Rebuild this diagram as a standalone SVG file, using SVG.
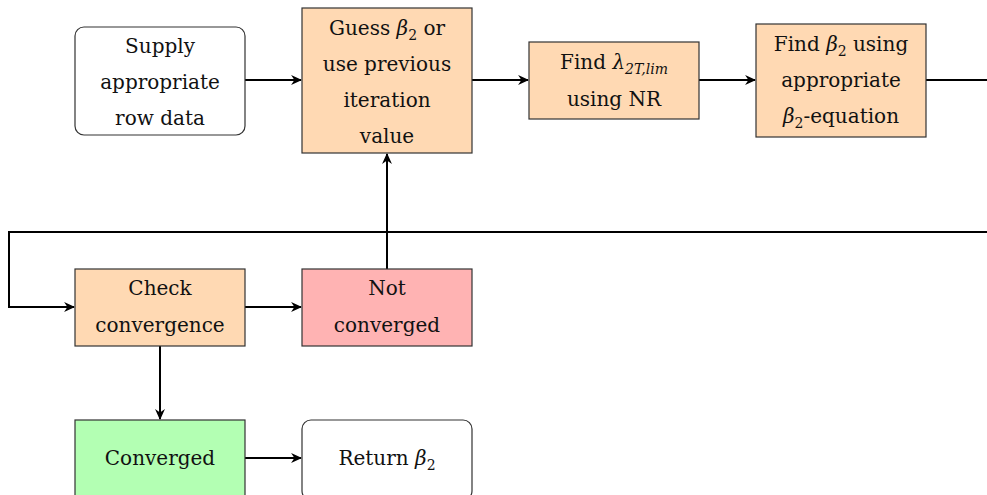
<svg xmlns="http://www.w3.org/2000/svg" width="987" height="495" viewBox="0 0 987 495">
<style>
.box{stroke:#333;stroke-width:1.2}
.w{fill:#fff}
.o{fill:#FFD9B3}
.r{fill:#FFB3B3}
.g{fill:#B3FFB3}
text{font-family:"DejaVu Serif","Liberation Serif",serif;font-size:20px;fill:#111;text-anchor:middle}
.m{font-style:italic}
.c{fill:none;stroke:#000;stroke-width:2}
</style>
<defs>
<marker id="a" viewBox="0 0 10 10" refX="9" refY="5" markerWidth="11" markerHeight="11" orient="auto" markerUnits="userSpaceOnUse">
<path d="M0,0.5 L10,5 L0,9.5 L3,5 z" fill="#000"/>
</marker>
</defs>
<rect width="987" height="495" fill="#fff"/>
<g id="connectors">
<line class="c" x1="245" y1="80" x2="301" y2="80" marker-end="url(#a)"/>
<line class="c" x1="472" y1="80" x2="528" y2="80" marker-end="url(#a)"/>
<line class="c" x1="699" y1="80" x2="755" y2="80" marker-end="url(#a)"/>
<line class="c" x1="926" y1="80" x2="990" y2="80"/>
<polyline class="c" points="990,232 9,232 9,307 74,307" marker-end="url(#a)"/>
<line class="c" x1="387" y1="269" x2="387" y2="154" marker-end="url(#a)"/>
<line class="c" x1="245" y1="307" x2="301" y2="307" marker-end="url(#a)"/>
<line class="c" x1="160" y1="346" x2="160" y2="419" marker-end="url(#a)"/>
<line class="c" x1="245" y1="458" x2="301" y2="458" marker-end="url(#a)"/>
</g>
<g id="supply">
<rect class="box w" x="75" y="27" width="170" height="108" rx="9"/>
<text x="160" y="53">Supply</text>
<text x="160" y="89">appropriate</text>
<text x="160" y="125">row data</text>
</g>
<g id="guess">
<rect class="box o" x="302" y="8" width="170" height="145"/>
<text x="387" y="35">Guess <tspan class="m">β</tspan><tspan font-size="14" dy="5">2</tspan><tspan dy="-5"> or</tspan></text>
<text x="387" y="71">use previous</text>
<text x="387" y="107">iteration</text>
<text x="387" y="143">value</text>
</g>
<g id="findlambda">
<rect class="box o" x="529" y="42" width="170" height="77"/>
<text x="614" y="69">Find <tspan class="m">λ</tspan><tspan class="m" font-size="14" dy="5">2T,lim</tspan></text>
<text x="614" y="106">using NR</text>
</g>
<g id="findbeta">
<rect class="box o" x="756" y="24" width="170" height="113"/>
<text x="841" y="51">Find <tspan class="m">β</tspan><tspan font-size="14" dy="5">2</tspan><tspan dy="-5"> using</tspan></text>
<text x="841" y="87">appropriate</text>
<text x="841" y="123"><tspan class="m">β</tspan><tspan font-size="14" dy="5">2</tspan><tspan dy="-5">-equation</tspan></text>
</g>
<g id="check">
<rect class="box o" x="75" y="269" width="170" height="77"/>
<text x="160" y="295">Check</text>
<text x="160" y="332">convergence</text>
</g>
<g id="notconverged">
<rect class="box r" x="302" y="269" width="170" height="77"/>
<text x="387" y="295">Not</text>
<text x="387" y="332">converged</text>
</g>
<g id="converged">
<rect class="box g" x="75" y="420" width="170" height="80"/>
<text x="160" y="465">Converged</text>
</g>
<g id="return">
<rect class="box w" x="302" y="420" width="170" height="80" rx="9"/>
<text x="387" y="465">Return <tspan class="m">β</tspan><tspan font-size="14" dy="5">2</tspan></text>
</g>
</svg>
